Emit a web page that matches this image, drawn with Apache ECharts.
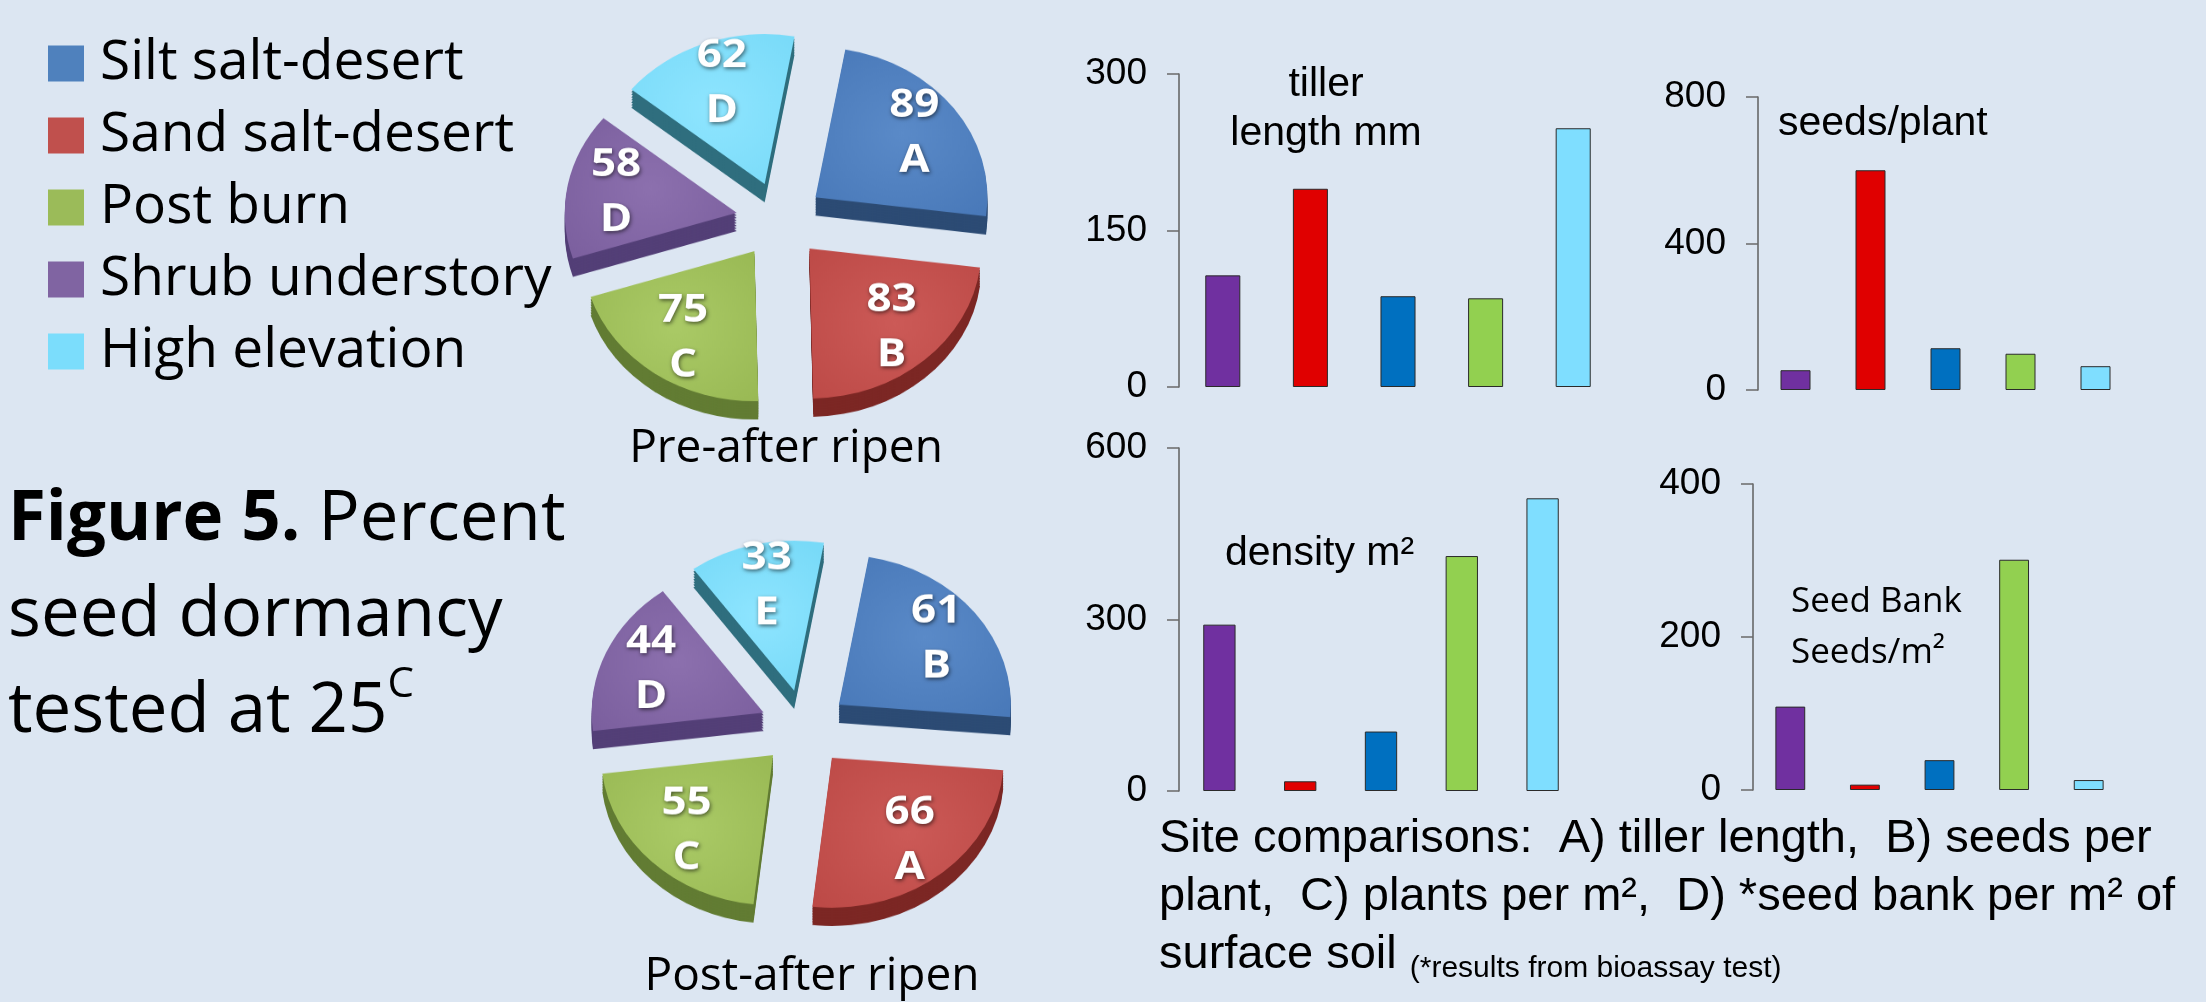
<!DOCTYPE html>
<html>
<head>
<meta charset="utf-8">
<script src="https://cdn.jsdelivr.net/npm/echarts@6.0.0/dist/echarts.min.js"></script>
<style>
  html, body { margin: 0; padding: 0; background: #DCE6F2; overflow: hidden; }
  #main { position: absolute; left: 0; top: 0; width: 2206px; height: 1002px; }
  /* the 3-D pies are viewed from above at a tilt: the pie layer is flattened vertically */
  #pies { position: absolute; left: 0; top: 0; width: 1100px; height: 1149px;
          transform: scaleY(0.872); transform-origin: 0 0; }
</style>
</head>
<body>
<div id="main"></div>
<div id="pies"></div>
<script>
// ---- data ----------------------------------------------------------------
// Sites in legend / pie order (clockwise from the top of each pie)
const sites = ['Silt salt-desert', 'Sand salt-desert', 'Post burn', 'Shrub understory', 'High elevation'];

// Percent seed dormancy tested at 25 C, with significance groups
const preRipen = [89, 83, 75, 58, 62];
const preGroups = ['A', 'B', 'C', 'D', 'D'];
const postRipen = [61, 66, 55, 44, 33];
const postGroups = ['B', 'A', 'C', 'D', 'E'];

// Site comparisons (bar order)
const barSites = ['Shrub understory', 'Sand salt-desert', 'Silt salt-desert', 'Post burn', 'High elevation'];
const tillerLength = [107, 190, 87, 85, 248];
const seedsPerPlant = [54, 600, 114, 99, 65];
const plantsPerM2 = [291, 17, 104, 411, 512];
const seedBankPerM2 = [109, 7, 39, 301, 13];

// Axis ticks of the four bar panels
const tillerTicks = [0, 150, 300];
const seedsTicks = [0, 400, 800];
const densityTicks = [0, 300, 600];
const seedBankTicks = [0, 200, 400];

// ---- styles --------------------------------------------------------------
const CALIBRI = '"Open Sans", "Noto Sans", sans-serif';
const ARIAL = '"Liberation Sans", Arial, sans-serif';

const legendColors = {
  'Silt salt-desert': '#4F81BD', 'Sand salt-desert': '#C0504D', 'Post burn': '#9BBB59',
  'Shrub understory': '#8064A2', 'High elevation': '#7BDDFC'
};
// top faces: lit centre, slightly darker rim
const topColors = {
  'Silt salt-desert': ['#5A8AC8', '#4878B8'], 'Sand salt-desert': ['#CC5A57', '#BC4946'],
  'Post burn': ['#AACA66', '#98B853'], 'Shrub understory': ['#8C70AE', '#7A5E9D'],
  'High elevation': ['#8EE5FF', '#78DAF8']
};
const sideColors = {
  'Silt salt-desert': '#2C4B74', 'Sand salt-desert': '#7C2724', 'Post burn': '#627C33',
  'Shrub understory': '#533F77', 'High elevation': '#2F6E7E'
};
const barColors = {
  'Shrub understory': '#7030A0', 'Sand salt-desert': '#E00000', 'Silt salt-desert': '#0070C0',
  'Post burn': '#92D050', 'High elevation': '#7FDEFF'
};

// ---- bar panels ----------------------------------------------------------
const panels = [
  { values: tillerLength, ticks: tillerTicks, grid: { left: 1179, top: 74, width: 438, height: 313 } },
  { values: seedsPerPlant, ticks: seedsTicks, grid: { left: 1758, top: 97, width: 375, height: 293 } },
  { values: plantsPerM2, ticks: densityTicks, grid: { left: 1179, top: 448, width: 404, height: 343 } },
  { values: seedBankPerM2, ticks: seedBankTicks, grid: { left: 1753, top: 484, width: 373, height: 306 } }
];

const grids = [], xAxes = [], yAxes = [], barSeries = [];
panels.forEach((p, g) => {
  grids.push(Object.assign({ containLabel: false }, p.grid));
  xAxes.push({ gridIndex: g, type: 'category', data: barSites, show: false });
  yAxes.push({
    gridIndex: g, type: 'value',
    min: p.ticks[0], max: p.ticks[p.ticks.length - 1], interval: p.ticks[1] - p.ticks[0],
    axisLine: { show: true, lineStyle: { color: '#5f5f5f', width: 1.5 } },
    axisTick: { show: true, length: 12, lineStyle: { color: '#6a6a6a', width: 1.5 } },
    axisLabel: { fontFamily: ARIAL, fontSize: 37, color: '#000', margin: 32 },
    splitLine: { show: false }
  });
  barSites.forEach((site, i) => {
    barSeries.push({
      type: 'bar', name: site, xAxisIndex: g, yAxisIndex: g,
      barWidth: '40%', barGap: '-100%',
      data: p.values.map((v, j) => (j === i ? v : '-')),
      itemStyle: { color: barColors[site], borderColor: '#2a2a2a', borderWidth: 1 },
      emphasis: { disabled: true }
    });
  });
});

// ---- main chart: bars, legend and text -------------------------------------
const main = echarts.init(document.getElementById('main'), null, { width: 2206, height: 1002 });
main.setOption({
  animation: false,
  backgroundColor: '#DCE6F2',
  legend: {
    orient: 'vertical', left: 48, top: 36, padding: 0,
    itemWidth: 36, itemHeight: 36, itemGap: 17, icon: 'rect',
    selectedMode: false,
    itemStyle: { borderWidth: 0 },
    textStyle: { fontFamily: CALIBRI, fontSize: 55, lineHeight: 55, color: '#000', padding: [0, 0, 0, 11] },
    data: sites.map(s => ({ name: s, itemStyle: { color: legendColors[s], borderWidth: 0 } }))
  },
  grid: grids,
  xAxis: xAxes,
  yAxis: yAxes,
  series: barSeries,
  graphic: [
    {
      type: 'text', x: 8, y: 472,
      style: {
        text: '{b|Figure 5.}{r| Percent}\n{r|seed dormancy}\n{r|tested at 25}{sup|C}',
        align: 'left', verticalAlign: 'top', fill: '#000',
        rich: {
          b: { fontFamily: CALIBRI, fontWeight: 'bold', fontSize: 69, lineHeight: 96, verticalAlign: 'middle', fill: '#000' },
          r: { fontFamily: CALIBRI, fontSize: 69, lineHeight: 96, verticalAlign: 'middle', fill: '#000' },
          sup: { fontFamily: CALIBRI, fontSize: 42, lineHeight: 70, verticalAlign: 'top', fill: '#000' }
        }
      }
    },
    { type: 'text', x: 786, y: 449,
      style: { text: 'Pre-after ripen', font: '46px ' + CALIBRI, fill: '#000', align: 'center', verticalAlign: 'middle' } },
    { type: 'text', x: 812, y: 977,
      style: { text: 'Post-after ripen', font: '46px ' + CALIBRI, fill: '#000', align: 'center', verticalAlign: 'middle' } },
    { type: 'text', x: 1326, y: 109,
      style: { text: 'tiller\nlength mm', font: '41px ' + ARIAL, lineHeight: 49, fill: '#000', align: 'center', verticalAlign: 'middle' } },
    { type: 'text', x: 1778, y: 124,
      style: { text: 'seeds/plant', font: '41px ' + ARIAL, fill: '#000', align: 'left', verticalAlign: 'middle' } },
    { type: 'text', x: 1225, y: 554,
      style: { text: 'density m²', font: '41px ' + ARIAL, fill: '#000', align: 'left', verticalAlign: 'middle' } },
    { type: 'text', x: 1791, y: 628,
      style: { text: 'Seed Bank\nSeeds/m²', font: '35px ' + CALIBRI, lineHeight: 51, fill: '#000', align: 'left', verticalAlign: 'middle' } },
    {
      type: 'text', x: 1159, y: 810,
      style: {
        text: 'Site comparisons:  A) tiller length,  B) seeds per\nplant,  C) plants per m²,  D) *seed bank per m² of\nsurface soil {s|(*results from bioassay test)}',
        font: '47px ' + ARIAL, fontFamily: ARIAL, fontSize: 47, lineHeight: 58, fill: '#000',
        align: 'left', verticalAlign: 'top',
        rich: {
          s: { fontFamily: ARIAL, fontSize: 30, lineHeight: 46, verticalAlign: 'bottom', fill: '#000' }
        }
      }
    }
  ]
});

// ---- pie layer: exploded 3-D pies ------------------------------------------
const K = 0.872;              // vertical flattening of the pie layer
const PIE_R = 172;            // top-face radius
const EXPLODE = 44;           // slice pull-out
const DEPTH = 21, DEPTH_STEP = 3;

function topFill(pair) {
  return {
    type: 'radial', x: 0.5, y: 0.5, r: 0.75,
    colorStops: [{ offset: 0, color: pair[0] }, { offset: 1, color: pair[1] }]
  };
}

function pieItems(values, groups, colorOf) {
  return sites.map((s, i) => ({
    name: s, value: values[i], group: groups[i], selected: true,
    itemStyle: { color: colorOf(s) }
  }));
}

function pieSet(name, values, groups, cx, cyScreen, startAngle) {
  const cy = cyScreen / K;
  const out = [];
  // side walls: the same slices stacked downwards in a darker shade
  for (let d = DEPTH; d >= DEPTH_STEP; d -= DEPTH_STEP) {
    out.push({
      type: 'pie', name: name + ' side', silent: true,
      center: [cx, cy + d], radius: PIE_R, startAngle: startAngle,
      selectedMode: 'multiple', selectedOffset: EXPLODE,
      avoidLabelOverlap: false, label: { show: false }, labelLine: { show: false },
      emphasis: { disabled: true }, select: { itemStyle: { borderWidth: 0 } },
      itemStyle: { borderWidth: 0 },
      data: pieItems(values, groups, s => sideColors[s])
    });
  }
  // top faces with the value and group letter
  out.push({
    type: 'pie', name: name, silent: true,
    center: [cx, cy], radius: PIE_R, startAngle: startAngle,
    selectedMode: 'multiple', selectedOffset: EXPLODE,
    avoidLabelOverlap: false, labelLine: { show: false },
    emphasis: { disabled: true }, select: { itemStyle: { borderWidth: 0 } },
    itemStyle: { borderWidth: 0 },
    label: {
      show: true, position: 'inside',
      formatter: p => p.value + '\n' + p.data.group,
      color: '#fff', fontFamily: CALIBRI, fontWeight: 'bold', fontSize: 44, lineHeight: 63,
      textShadowColor: 'rgba(0,0,0,0.55)', textShadowBlur: 4, textShadowOffsetX: 1, textShadowOffsetY: 2
    },
    labelLayout: function (p) {
      const r = p.labelRect;
      const lx = r.x + r.width / 2, ly = r.y + r.height / 2;
      return { dx: (lx - cx) * 0.38, dy: (ly - cy) * 0.38 };
    },
    data: pieItems(values, groups, s => topFill(topColors[s]))
  });
  return out;
}

const pies = echarts.init(document.getElementById('pies'), null, { width: 1100, height: 1149 });
pies.setOption({
  animation: false,
  series: [].concat(
    pieSet('Pre-after ripen', preRipen, preGroups, 780, 220, 80),
    pieSet('Post-after ripen', postRipen, postGroups, 804, 728, 80)
  )
});
</script>
</body>
</html>
